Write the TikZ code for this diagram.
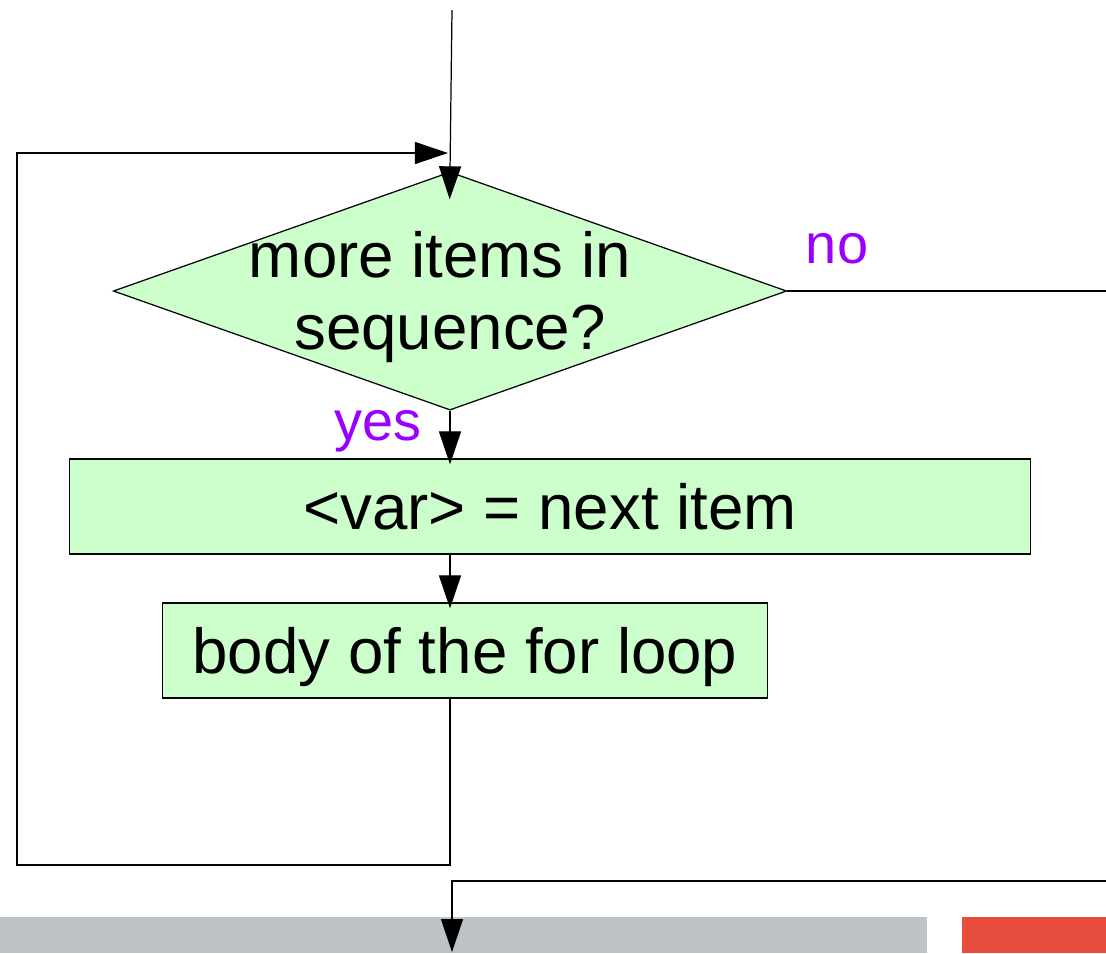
\documentclass[tikz,border=0pt]{standalone}
\usepackage{fontspec}
\setmainfont{Liberation Sans}
\usetikzlibrary{arrows.meta,shapes.geometric}
\definecolor{boxgreen}{HTML}{CCFFCC}
\definecolor{labelpurple}{HTML}{9900FF}
\definecolor{bargray}{HTML}{BDC3C7}
\definecolor{barred}{HTML}{E74C3C}

\begin{document}
\begin{tikzpicture}[x=0.01cm, y=-0.01cm,
    line/.style={draw=black, line width=0.35pt},
    arr/.style={line, -{Triangle[width=0.22cm,length=0.33cm]}, shorten >=-0.06cm},
    decision/.style={diamond, draw=black, line width=0.35pt, fill=boxgreen, minimum width=6.73cm, minimum height=2.38cm, inner sep=0pt},
    stepbox/.style={rectangle, draw=black, line width=0.35pt, fill=boxgreen, minimum height=0.95cm, font=\fontsize{18.1}{20.7}\selectfont},
    answer/.style={text=labelpurple, font=\fontsize{15.9}{18}\selectfont, anchor=base}]
    \useasboundingbox (0,0) rectangle (1106,953);
    % bars at the bottom
    \fill[bargray] (0,917) rectangle (927,953);
    \fill[barred] (962,917) rectangle (1106,953);
    % nodes
    \node[decision] (test) at (450,291) {};
    \node[align=center, font=\fontsize{18.1}{20.7}\selectfont] (testtext) at (450,297) {more items in\rule{0.2cm}{0pt}\\sequence?};
    \node[stepbox, minimum width=9.6cm] (next) at (550,506.5) {<var> = next item};
    \node[stepbox, minimum width=6.04cm, text depth=0pt] (body) at (465,650.5) {body of the for loop};
    \node[answer] (yeslabel) at (378,440) {yes};
    \node[answer] (nolabel) at (837,263) {no};
    \coordinate (entry) at (452,10);
    \coordinate (loopcorner) at (17,865);
    \coordinate (loopjoin) at (448,153);
    \coordinate (noend) at (1106,291);
    \coordinate (exitstart) at (1106,881);
    \coordinate (exitend) at (452,946);
    % connectors
    \draw[arr, shorten >=-0.28cm] (entry) -- (test.north);
    \draw[arr] (test.south) -- (test.south |- next.north);
    \draw[arr] (test.south |- next.south) -- (test.south |- body.north);
    \draw[line] (test.east) -- (noend);
    \draw[arr, shorten >=0pt] (test.south |- body.south) |- (loopcorner) |- (loopjoin);
    \draw[arr] (exitstart) -| (exitend);
\end{tikzpicture}
\end{document}
